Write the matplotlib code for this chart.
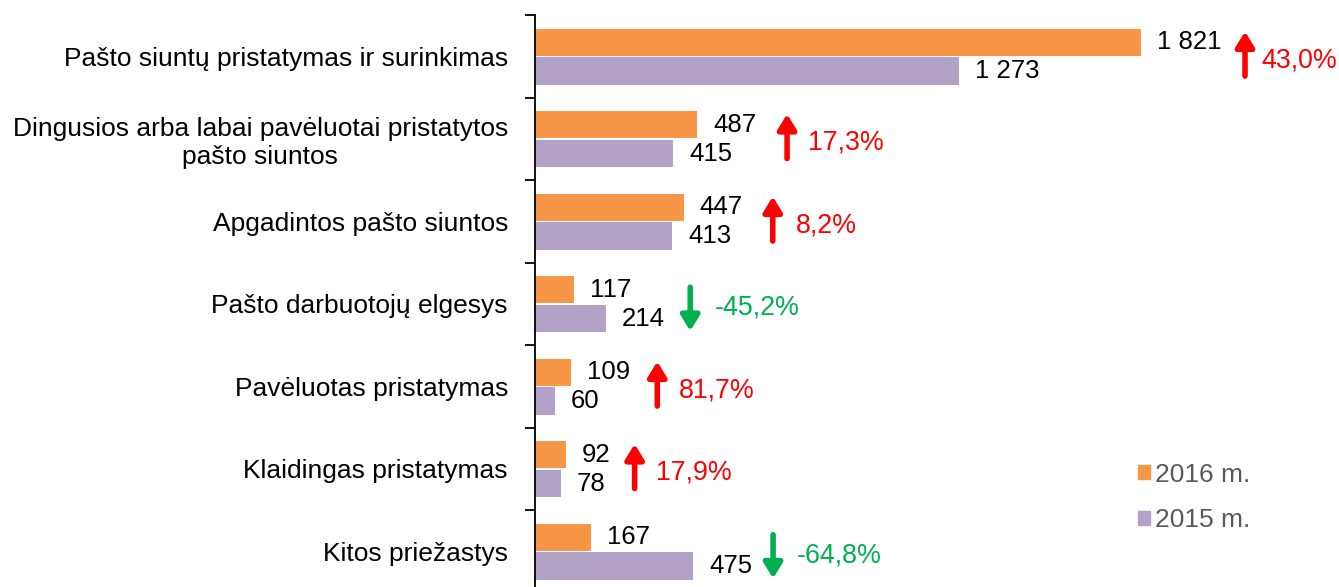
import matplotlib
matplotlib.use('Agg')
import matplotlib.pyplot as plt
import matplotlib.transforms as mtransforms
from matplotlib.patches import Patch
import numpy as np

plt.rcParams['font.family'] = ['Liberation Sans', 'DejaVu Sans']

categories = [
    "Pašto siuntų pristatymas ir surinkimas",
    "Dingusios arba labai pavėluotai pristatytos\npašto siuntos",
    "Apgadintos pašto siuntos",
    "Pašto darbuotojų elgesys",
    "Pavėluotas pristatymas",
    "Klaidingas pristatymas",
    "Kitos priežastys",
]
values_2016 = [1821, 487, 447, 117, 109, 92, 167]
values_2015 = [1273, 415, 413, 214, 60, 78, 475]
changes = ["43,0%", "17,3%", "8,2%", "-45,2%", "81,7%", "17,9%", "-64,8%"]
series_labels = ["2016 m.", "2015 m."]

ORANGE = "#F79646"
PURPLE = "#B3A2C7"
RED = "#FF0000"
GREEN = "#00B050"

# arrow distance (pixels) from the end of the longer bar, then text distance from arrow
arrow_gap = [104, 90, 89, 84, 86, 69, 80]
text_gap = [16, 21, 23, 25, 22, 21, 24]

fig = plt.figure(figsize=(13.39, 5.87), dpi=100)
ax = fig.add_axes([535 / 1339, 1 - 592.5 / 587, 1 - 535 / 1339, 577.5 / 587])

y = np.arange(len(categories))
h = 0.33
ax.barh(y - 0.17, values_2016, height=h, color=ORANGE, label=series_labels[0])
ax.barh(y + 0.18, values_2015, height=h, color=PURPLE, label=series_labels[1])

ax.set_xlim(0, 804 / 0.3328)
ax.set_ylim(len(categories) - 0.5, -0.5)

def fmt(v):
    return f"{v:,}".replace(",", " ")

for i in range(len(categories)):
    for v, yy in ((values_2016[i], i - 0.17), (values_2015[i], i + 0.18)):
        ax.annotate(fmt(v), xy=(v, yy), xytext=(11.5, 0), textcoords="offset points",
                    ha="left", va="center", fontsize=18.5, color="black")

    top = max(values_2016[i], values_2015[i])
    up = not changes[i].startswith("-")
    col = RED if up else GREEN
    tr = mtransforms.offset_copy(ax.transData, fig=fig, x=arrow_gap[i], y=0, units="dots")
    if up:
        tail, tip = i + 0.24, i - 0.30
    else:
        tail, tip = i - 0.20, i + 0.33
    ax.annotate("", xy=(top, tip), xytext=(top, tail), xycoords=tr, textcoords=tr,
                arrowprops=dict(arrowstyle="-|>,head_length=0.9,head_width=0.55",
                                color=col, lw=4, shrinkA=0, shrinkB=0))
    tr2 = mtransforms.offset_copy(ax.transData, fig=fig, x=arrow_gap[i] + text_gap[i], y=0,
                                  units="dots")
    ax.text(top, i + 0.05, changes[i], transform=tr2, ha="left", va="center",
            fontsize=19.3, color=col)

ax.set_yticks(y)
ax.set_yticklabels(categories, fontsize=19, multialignment="center")
ax.set_yticks(np.arange(len(categories) + 1) - 0.5, minor=True)
ax.tick_params(axis="y", which="major", length=0, pad=19.5)
ax.tick_params(axis="y", which="minor", length=7, width=1.3, direction="out")
ax.set_xticks([])
for s in ("top", "right", "bottom"):
    ax.spines[s].set_visible(False)
ax.spines["left"].set_linewidth(1.3)

handles = [Patch(color=ORANGE), Patch(color=PURPLE)]
fig.legend(handles, series_labels, loc="upper left", bbox_to_anchor=(1114 / 1339, 1 - 439 / 587),
           frameon=False, fontsize=19, handlelength=0.45, handleheight=0.45,
           handletextpad=0.2, labelspacing=0.82, labelcolor="#595959")

fig.savefig("out.png", dpi=100)
